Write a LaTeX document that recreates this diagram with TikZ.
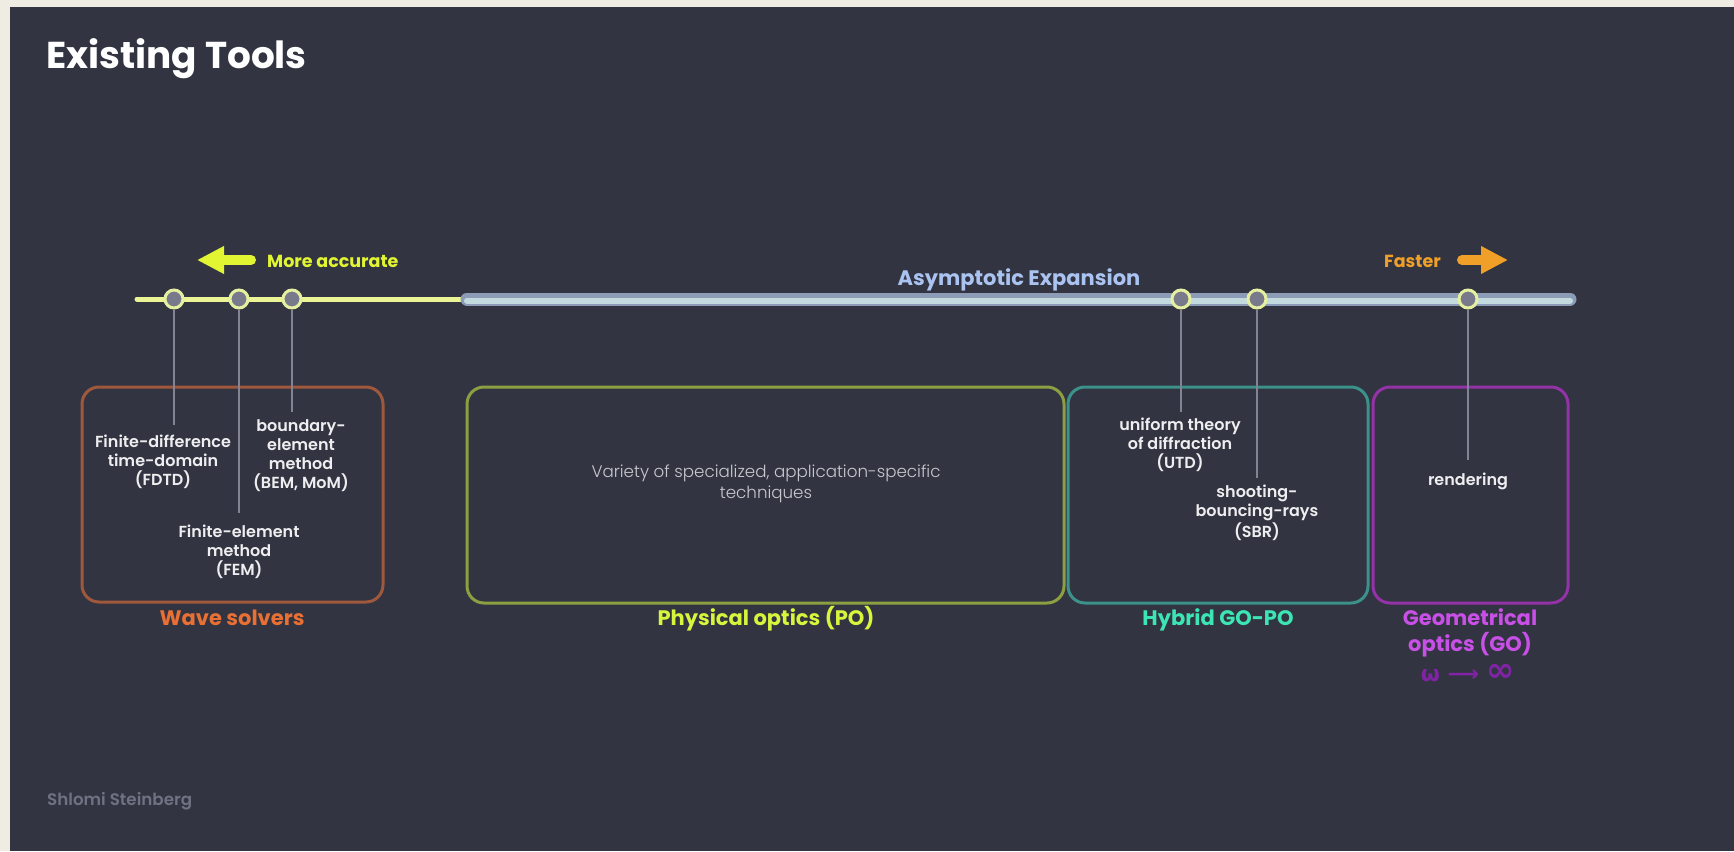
\documentclass[tikz,border=0pt]{standalone}
\usepackage{fontspec}
\setmainfont{Poppins}
\newfontfamily\popsemi{Poppins SemiBold}
\newfontfamily\poplight{Poppins Light}
\newfontfamily\djv{DejaVu Sans}
\usetikzlibrary{arrows.meta}
\definecolor{cream}{RGB}{239,236,228}
\definecolor{bgdark}{RGB}{50,52,65}
\definecolor{accyel}{RGB}{225,245,50}
\definecolor{lineyel}{RGB}{235,245,150}
\definecolor{ringyel}{RGB}{228,240,160}
\definecolor{dotgrey}{RGB}{120,122,140}
\definecolor{stemgrey}{RGB}{130,132,148}
\definecolor{blueedge}{RGB}{140,155,182}
\definecolor{bluecore}{RGB}{195,218,222}
\definecolor{asymblue}{RGB}{170,195,240}
\definecolor{fastorg}{RGB}{240,160,40}
\definecolor{waveedge}{RGB}{160,88,60}
\definecolor{wavetxt}{RGB}{232,112,52}
\definecolor{poedge}{RGB}{140,160,65}
\definecolor{potxt}{RGB}{215,245,60}
\definecolor{hyedge}{RGB}{60,145,138}
\definecolor{hytxt}{RGB}{60,230,180}
\definecolor{goedge}{RGB}{148,50,168}
\definecolor{gotxt}{RGB}{200,80,230}
\definecolor{godim}{RGB}{128,35,165}
\definecolor{inner}{RGB}{238,238,240}
\definecolor{lighttxt}{RGB}{200,200,206}
\definecolor{authgrey}{RGB}{112,114,132}
\begin{document}
\begin{tikzpicture}[x=1pt,y=-1pt,
  dot/.style={circle,minimum size=18pt,inner sep=0pt,draw=ringyel,line width=3pt,fill=dotgrey},
  stem/.style={draw=stemgrey,line width=1.6pt},
  catbox/.style={rounded corners=17pt,line width=3pt},
  catlabel/.style={font=\fontsize{21}{24}\selectfont\bfseries,anchor=base,inner sep=0pt},
  itemtxt/.style={font=\fontsize{16}{19}\popsemi,text=inner,align=center,anchor=base,inner sep=0pt},
  hint/.style={font=\fontsize{17.5}{21}\selectfont\bfseries,anchor=base west,inner sep=0pt}]
\useasboundingbox (0,0) rectangle (1734,851);
\fill[cream] (0,0) rectangle (1734,851);
\fill[bgdark] (10,7) rectangle (1734,851);
% title
\node[font=\fontsize{37.4}{42}\selectfont\bfseries,text=white,anchor=base west,inner sep=0pt] (title) at (46,68) {Existing Tools};
% hints
\draw[accyel,line width=10pt,line cap=round,-{Triangle[length=27pt,width=26pt]}] (251,260) -- (197,260);
\node[hint,text=accyel] (acc) at (267,267) {More accurate};
\node[hint,text=fastorg,anchor=base east] (fast) at (1441,267) {Faster};
\draw[fastorg,line width=10pt,line cap=round,-{Triangle[length=27pt,width=26pt]}] (1462,260) -- (1508,260);
\node[font=\fontsize{21}{25}\selectfont\bfseries,text=asymblue,anchor=base,inner sep=0pt] (asym) at (1019,285) {Asymptotic Expansion};
% timeline
\coordinate (ystart) at (137,299);
\coordinate (ymid) at (467,299);
\coordinate (bend) at (1570,299);
\draw[lineyel,line width=5pt,line cap=round] (ystart) -- (ymid);
\draw[blueedge,line width=13pt,line cap=round] (ymid) -- (bend);
\draw[bluecore,line width=6pt,line cap=round] ([yshift=-1.5pt]ymid) -- ([yshift=-1.5pt]bend);
% boxes
\draw[catbox,waveedge] (82,387) rectangle (383,602);
\draw[catbox,poedge] (467,387) rectangle (1064,603);
\draw[catbox,hyedge] (1068,387) rectangle (1368,603);
\draw[catbox,goedge] (1373,387) rectangle (1568,603);
% category labels
\node[catlabel,text=wavetxt] (lwave) at (232,625) {Wave solvers};
\node[catlabel,text=potxt] (lpo) at (766,625) {Physical optics (PO)};
\node[catlabel,text=hytxt] (lhy) at (1218,625) {Hybrid GO-PO};
\node[catlabel,text=gotxt,align=center,font=\fontsize{21}{25.5}\selectfont\bfseries] (lgo) at (1470,651) {Geometrical\\optics (GO)};
\node[font=\fontsize{22}{24}\djv\bfseries,text=godim,anchor=base,inner sep=0pt] (lim) at (1468,681) {ω ⟶ {\fontsize{34}{34}\selectfont ∞}};
% item texts
\node[itemtxt] (fdtd) at (163,485) {Finite-difference\\time-domain\\(FDTD)};
\node[itemtxt] (bem) at (301,488) {boundary-\\element\\method\\(BEM, MoM)};
\node[itemtxt] (fem) at (239,575) {Finite-element\\method\\(FEM)};
\node[itemtxt] (utd) at (1180,468) {uniform theory\\of diffraction\\(UTD)};
\node[itemtxt] (sbr) at (1257,537) {shooting-\\bouncing-rays\\(SBR)};
\node[itemtxt] (rend) at (1468,485) {rendering};
\node[font=\fontsize{16.7}{20.5}\poplight,text=lighttxt,align=center,anchor=base,inner sep=0pt] (var) at (766,498) {Variety of specialized, application-specific\\techniques};
% stems ends
\coordinate (e1) at (174,425);
\coordinate (e2) at (239,513);
\coordinate (e3) at (292,412);
\coordinate (e4) at (1181,412);
\coordinate (e5) at (1257,478);
\coordinate (e6) at (1468,460);
% dots
\node[dot] (c1) at (174,299) {};
\node[dot] (c2) at (239,299) {};
\node[dot] (c3) at (292,299) {};
\node[dot] (c4) at (1181,299) {};
\node[dot] (c5) at (1257,299) {};
\node[dot] (c6) at (1468,299) {};
\draw[stem] (c1) -- (e1);
\draw[stem] (c2) -- (e2);
\draw[stem] (c3) -- (e3);
\draw[stem] (c4) -- (e4);
\draw[stem] (c5) -- (e5);
\draw[stem] (c6) -- (e6);
% author
\node[font=\fontsize{16.7}{20}\popsemi,text=authgrey,anchor=base west,inner sep=0pt] (auth) at (47,805) {Shlomi Steinberg};
\end{tikzpicture}
\end{document}
